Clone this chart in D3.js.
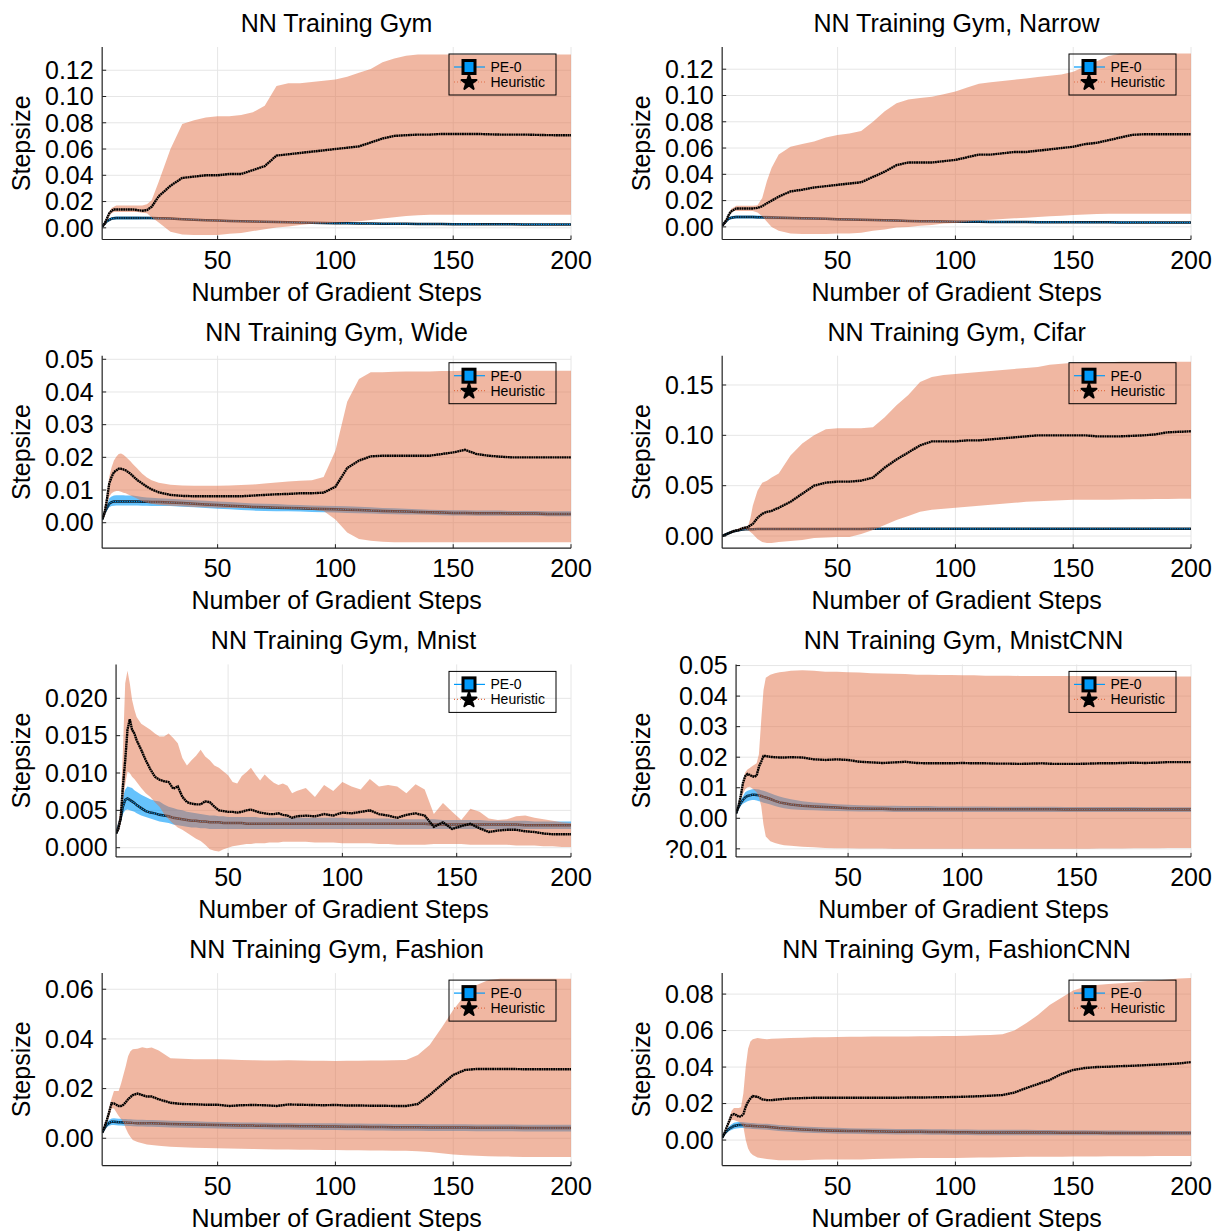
<!DOCTYPE html>
<html>
<head>
<meta charset="utf-8">
<script src="https://cdn.jsdelivr.net/npm/d3@7"></script>
<style>
  body { margin: 0; background: #fff; }
  text { font-family: "Liberation Sans", Arial, Helvetica, sans-serif; fill: #000; }
</style>
</head>
<body>
<svg id="chart" width="1217" height="1231"></svg>
<script>
// gradient steps where values were read (shared by 7 panels)
const steps = [1,2,3,4,5,6,7,8,9,10,11,12,13,14, 16,18,20,22,25,
  30,35,40,45,50,55,60, 65,70,75,80,85,90,95, 100,105,110,115,120,125,130,
  135,140,145,150,155,160,165, 170,175,180,185,190,195,200];
// Mnist panel is noisier, read more densely
const mnistSteps = [1,2,3,4,5,6,7,8,9,10,
  12,14,16,18,20,22,24,26,28,30,32,34,36,38,40,42,44,46,48,50,52,54,56,58,60,62,64,66,68,70,72,74,76,78,80,
  84,88,92,96,100,104,108,112,116,120,124,128,132,136,140,144,148,152,156,160,164,168,172,176,180,184,188,192,196,200];
const xTicks = [50, 100, 150, 200];

// ---- NN Training Gym
const gymPe = [.001,.003,.005,.006,.007,.0073,.0075,.0075,.0075,.0075,.0075,.0075,.0075,.0075, .0075,.0075,.0075,.0074,.0072,
  .007,.0066,.0062,.0058,.0055,.0052,.005, .0048,.0046,.0044,.0042,.004,.0038,.0037, .0035,.0034,.0033,.0032,.0031,.003,.003,
  .0029,.0029,.0029,.0028,.0028,.0028,.0027, .0027,.0027,.0026,.0026,.0026,.0026,.0026];
const gymPeHi = [.001,.0035,.006,.007,.008,.0085,.0086,.0086,.0086,.0086,.0086,.0086,.0086,.0086, .0086,.0085,.0085,.0083,.008,
  .0077,.0073,.0068,.0064,.006,.0057,.0055, .0053,.0051,.0049,.0047,.0045,.0043,.0042, .004,.0039,.0038,.0037,.0036,.0035,.0035,
  .0034,.0034,.0034,.0033,.0033,.0033,.0032, .0032,.0032,.0031,.0031,.0031,.0031,.0031];
const gymPeLo = [.001,.0025,.004,.005,.006,.0062,.0064,.0064,.0064,.0064,.0064,.0064,.0064,.0064, .0064,.0065,.0065,.0065,.0064,
  .0063,.0059,.0056,.0052,.005,.0047,.0045, .0043,.0041,.0039,.0037,.0035,.0033,.0032, .003,.0029,.0028,.0027,.0026,.0025,.0025,
  .0024,.0024,.0024,.0023,.0023,.0023,.0022, .0022,.0022,.0021,.0021,.0021,.0021,.0021];
const gymHeu = [.001,.003,.007,.011,.013,.014,.014,.014,.014,.014,.014,.014,.014,.014, .0135,.013,.0135,.016,.024,
  .032,.038,.039,.040,.040,.041,.041, .044,.047,.055,.056,.057,.058,.059, .060,.061,.062,.065,.068,.070,.0705,
  .071,.071,.0715,.0715,.0715,.0715,.0712, .071,.071,.071,.0708,.0706,.0705,.0705];
const gymHeuHi = [.001,.004,.008,.012,.015,.016,.017,.017,.017,.017,.017,.017,.017,.017, .017,.017,.018,.021,.035,
  .060,.079,.082,.084,.085,.085,.086, .088,.093,.108,.110,.110,.111,.112, .113,.115,.118,.121,.126,.129,.131,
  .132,.132,.132,.132,.132,.132,.132, .132,.132,.132,.132,.132,.132,.132];
const gymHeuLo = [.001,.002,.005,.009,.011,.012,.012,.012,.012,.012,.012,.012,.012,.012, .012,.0115,.011,.008,.004,
  -.003,-.005,-.0055,-.0055,-.0055,-.0045,-.004, -.0025,-.001,.0003,.001,.0022,.003,.0035, .004,.0045,.005,.006,.007,.008,.009,
  .0095,.010,.010,.010,.010,.010,.010, .010,.010,.010,.010,.010,.010,.010];

// ---- Narrow
const narPe = [.001,.003,.005,.0065,.007,.0073,.0075,.0075,.0075,.0075,.0075,.0075,.0075,.0075, .0074,.0073,.0072,.0071,.007,
  .0068,.0065,.0063,.0061,.0058,.0056,.0054, .0052,.005,.0048,.0045,.0043,.0042,.0041, .004,.0039,.0039,.0038,.0038,.0037,.0037,
  .0036,.0036,.0036,.0036,.0035,.0035,.0035, .0034,.0034,.0034,.0034,.0033,.0033,.0033];
const narPeHi = [.001,.0035,.006,.0075,.0082,.0085,.0087,.0087,.0087,.0087,.0087,.0087,.0087,.0087, .0086,.0085,.0084,.0083,.0081,
  .0078,.0075,.0072,.007,.0067,.0064,.0062, .006,.0058,.0056,.0053,.0051,.005,.0049, .0047,.0046,.0046,.0045,.0045,.0044,.0044,
  .0043,.0043,.0043,.0043,.0042,.0042,.0042, .0041,.0041,.0041,.0041,.004,.004,.004];
const narPeLo = [.001,.0025,.004,.0055,.0058,.0061,.0063,.0063,.0063,.0063,.0063,.0063,.0063,.0063, .0062,.0061,.006,.0059,.0059,
  .0058,.0055,.0054,.0052,.0049,.0048,.0046, .0044,.0042,.004,.0037,.0035,.0034,.0033, .0033,.0032,.0032,.0031,.0031,.003,.003,
  .0029,.0029,.0029,.0029,.0028,.0028,.0028, .0027,.0027,.0027,.0027,.0026,.0026,.0026];
const narHeu = [.001,.003,.006,.010,.012,.013,.014,.014,.014,.014,.014,.014,.014,.014, .0145,.0157,.018,.020,.023,
  .027,.0283,.030,.031,.032,.033,.034, .038,.042,.047,.049,.049,.049,.050, .051,.053,.055,.055,.056,.057,.057,
  .058,.059,.060,.061,.063,.064,.066, .068,.070,.0705,.0705,.0705,.0705,.0705];
const narHeuHi = [.001,.004,.007,.011,.014,.015,.016,.016,.016,.016,.016,.016,.016,.016, .0165,.022,.035,.045,.055,
  .061,.063,.065,.068,.070,.071,.073, .080,.088,.094,.097,.098,.099,.101, .103,.106,.109,.110,.111,.112,.113,
  .114,.115,.116,.118,.122,.126,.130, .132,.132,.132,.132,.132,.132,.132];
const narHeuLo = [.001,.002,.005,.009,.011,.012,.012,.012,.012,.012,.012,.012,.012,.012, .011,.008,.004,.000,-.003,
  -.005,-.0055,-.0055,-.0055,-.005,-.005,-.0045, -.003,-.002,-.0005,.000,.0008,.0015,.0025, .003,.004,.005,.0055,.006,.0065,.007,
  .0075,.008,.0085,.009,.0095,.0098,.010, .010,.010,.010,.010,.010,.010,.010];

// ---- Wide
const widePe = [.001,.003,.0045,.0058,.0063,.0065,.0065,.0065,.0065,.0065,.0065,.0065,.0065,.0065, .0065,.0064,.0064,.0063,.0063,
  .0062,.006,.0058,.0056,.0054,.0052,.005, .0048,.0047,.0046,.0045,.0044,.0043,.0042, .0041,.004,.0039,.0037,.0036,.0035,.0034,
  .0033,.0032,.0031,.003,.003,.0029,.0029, .0029,.0028,.0028,.0028,.0027,.0027,.0027];
const widePeHi = [.001,.0035,.0055,.0075,.008,.0083,.0084,.0084,.0084,.0084,.0083,.0083,.0083,.0083, .0081,.0079,.0077,.0076,.0075,
  .0073,.0071,.0069,.0067,.0065,.0063,.0061, .0059,.0058,.0057,.0055,.0054,.0053,.0052, .0051,.005,.0049,.0047,.0045,.0044,.0043,
  .0041,.004,.0039,.0038,.0038,.0037,.0037, .0037,.0036,.0036,.0036,.0035,.0035,.0035];
const widePeLo = [.001,.0025,.0038,.0047,.0051,.0052,.0053,.0053,.0053,.0053,.0053,.0053,.0053,.0053, .0053,.0052,.0052,.0051,.0051,
  .0051,.0049,.0047,.0045,.0043,.0041,.0039, .0037,.0036,.0035,.0035,.0034,.0033,.0032, .0031,.003,.0029,.0028,.0027,.0026,.0025,
  .0025,.0024,.0023,.0022,.0022,.0021,.0021, .0021,.0021,.0021,.0021,.002,.002,.002];
const wideHeu = [.001,.003,.007,.012,.014,.0155,.016,.0165,.0165,.0163,.016,.0155,.015,.0143, .013,.012,.011,.0102,.0093,
  .0085,.0082,.0081,.0081,.0081,.0081,.0081, .0083,.0085,.0087,.0088,.009,.009,.0092, .011,.0167,.019,.0203,.0205,.0205,.0205,
  .0205,.0205,.021,.0215,.0223,.021,.0205, .0202,.020,.020,.020,.020,.020,.020];
const wideHeuHi = [.001,.004,.009,.014,.017,.019,.0202,.021,.0212,.0208,.0202,.0195,.0188,.018, .0165,.015,.0138,.013,.0122,
  .0116,.0114,.0113,.0113,.0113,.0114,.0115, .0117,.012,.0123,.0126,.0128,.013,.014, .022,.037,.044,.046,.046,.0462,.0463,
  .0463,.0463,.0464,.0464,.0465,.0465,.0465, .0465,.0465,.0465,.0465,.0465,.0465,.0465];
const wideHeuLo = [.001,.002,.005,.008,.009,.0095,.0097,.0097,.0095,.0092,.009,.0086,.0083,.008, .0073,.0066,.0061,.0058,.0055,
  .0052,.005,.0048,.0047,.0046,.0045,.0045, .0044,.0044,.0043,.0042,.0041,.004,.0036, .001,-.003,-.005,-.0055,-.0058,-.006,-.006,
  -.006,-.006,-.006,-.006,-.006,-.006,-.006, -.006,-.006,-.006,-.006,-.006,-.006,-.006];

// ---- Cifar
const cifPe = [.000,.001,.002,.003,.004,.0047,.0053,.0058,.0062,.0065,.0066,.0067,.0068,.0068, .0069,.007,.007,.007,.007,
  .007,.007,.007,.007,.007,.007,.007, .0071,.0071,.0071,.0071,.0071,.0071,.0071, .0071,.0071,.0071,.0071,.0071,.0071,.0071,
  .0072,.0072,.0072,.0072,.0072,.0072,.0072, .0072,.0072,.0072,.0072,.0072,.0072,.0072];
const cifPeHi = [.000,.0014,.0026,.0036,.0046,.0053,.0059,.0064,.0068,.0071,.0072,.0073,.0074,.0074, .0075,.0076,.0076,.0076,.0076,
  .0076,.0076,.0076,.0076,.0076,.0076,.0076, .0077,.0077,.0077,.0077,.0077,.0077,.0077, .0077,.0077,.0077,.0077,.0077,.0077,.0077,
  .0078,.0078,.0078,.0078,.0078,.0078,.0078, .0078,.0078,.0078,.0078,.0078,.0078,.0078];
const cifPeLo = [.000,.0006,.0014,.0024,.0034,.0041,.0047,.0052,.0056,.0059,.006,.0061,.0062,.0062, .0063,.0064,.0064,.0064,.0064,
  .0064,.0064,.0064,.0064,.0064,.0064,.0064, .0065,.0065,.0065,.0065,.0065,.0065,.0065, .0065,.0065,.0065,.0065,.0065,.0065,.0065,
  .0066,.0066,.0066,.0066,.0066,.0066,.0066, .0066,.0066,.0066,.0066,.0066,.0066,.0066];
const cifHeu = [.000,.001,.002,.003,.004,.005,.0055,.006,.007,.008,.0085,.009,.0105,.012, .018,.022,.024,.025,.028,
  .034,.042,.050,.053,.054,.054,.055, .058,.068,.076,.083,.090,.094,.094, .094,.095,.095,.096,.097,.098,.099,
  .100,.100,.100,.100,.100,.099,.099, .099,.0995,.100,.101,.103,.1035,.104];
const cifHeuHi = [.000,.001,.002,.003,.0045,.0055,.0065,.0075,.0085,.009,.0095,.010,.018,.030, .045,.053,.055,.058,.062,
  .080,.092,.100,.106,.107,.107,.107, .108,.118,.130,.140,.153,.158,.160, .161,.162,.163,.164,.165,.166,.167,
  .168,.170,.171,.172,.172,.1725,.1725, .173,.173,.173,.173,.173,.173,.173];
const cifHeuLo = [.000,.001,.002,.003,.0035,.0045,.005,.0055,.006,.0065,.0065,.006,.004,.002, -.003,-.006,-.007,-.007,-.006,
  -.005,-.004,-.002,-.0015,-.001,-.001,.002, .006,.011,.016,.020,.024,.026,.027, .028,.029,.030,.031,.032,.033,.034,
  .0345,.035,.0355,.036,.036,.036,.036, .0363,.0365,.0365,.0367,.0368,.037,.037];

// ---- Mnist
const mnPe = [.0019,.0028,.0039,.0055,.0064,.0066,.0064,.0062,.006,.0057,
  .0053,.0049,.0047,.0046,.0044,.0043,.0042,.004,.0039,.0038,.0037,.0036,.0036,.0035,.0035,.0034,.0034,.0034,.0033,.0033,
  .0033,.0033,.0033,.0032,.0032,.0032,.0032,.0032,.0032,.0032,.0032,.0032,.0032,.0032,.0032,
  .0032,.0032,.0032,.0032,.0032,.0032,.0032,.0032,.0032,.0032,.0032,.0032,.0032,.0032,.0031,
  .0031,.0031,.0031,.0031,.0031,.0031,.0031,.0031,.0031,.003,.003,.003,.003,.003,.003];
const mnPeHi = [.0019,.0032,.0045,.0068,.0078,.0082,.0081,.008,.0077,.0075,
  .0071,.0068,.0065,.0063,.0062,.0058,.0055,.0053,.0051,.005,.0048,.0047,.0046,.0045,.0044,.0043,.0043,.0042,.0042,.0041,
  .0041,.0041,.0041,.0041,.0041,.0041,.004,.004,.004,.004,.004,.004,.004,.004,.004,
  .004,.004,.004,.004,.004,.0039,.0039,.0039,.0039,.0039,.0038,.0038,.0038,.0038,.0038,
  .0037,.0037,.0037,.0037,.0037,.0036,.0036,.0036,.0036,.0036,.0035,.0035,.0035,.0035,.0035];
const mnPeLo = [.0019,.0025,.0034,.0045,.005,.0051,.005,.0049,.0048,.0046,
  .0043,.0041,.0039,.0037,.0035,.0034,.0033,.0031,.003,.0029,.0028,.0027,.0027,.0026,.0026,.0025,.0025,.0025,.0025,.0025,
  .0025,.0025,.0025,.0025,.0025,.0025,.0025,.0025,.0025,.0025,.0025,.0025,.0025,.0025,.0025,
  .0025,.0025,.0025,.0025,.0025,.0025,.0025,.0025,.0025,.0025,.0025,.0025,.0025,.0025,.0025,
  .0025,.0025,.0025,.0025,.0025,.0025,.0025,.0025,.0025,.0025,.0025,.0025,.0025,.0025,.0025];
const mnHeu = [.0019,.0025,.0039,.0082,.0117,.0158,.0172,.0158,.0153,.0144,
  .0131,.0117,.0105,.0095,.0091,.0089,.0088,.0079,.0082,.0068,.0061,.0059,.0058,.0058,.0062,.0061,.0055,.005,.0049,.0048,
  .0048,.0047,.0048,.005,.0051,.0049,.0047,.0046,.0045,.0045,.0046,.0044,.0043,.004,.0042,
  .0043,.0042,.0045,.0043,.0047,.0046,.0048,.005,.0045,.0043,.004,.0044,.0046,.0043,.0028,
  .0034,.0025,.0029,.0032,.0026,.0021,.0023,.0024,.0024,.0022,.0021,.0019,.0018,.0018,.0018];
const mnHeuHi = [.0019,.003,.0055,.013,.022,.0237,.022,.0198,.0185,.0175,
  .0166,.0162,.0158,.0153,.0149,.0149,.0153,.0147,.014,.012,.011,.0117,.0123,.0131,.0122,.0117,.011,.0107,.0102,.0097,
  .0088,.0086,.0096,.0101,.0107,.0098,.009,.0098,.0092,.0087,.0084,.0086,.0083,.0073,.0076,
  .008,.0068,.0084,.0076,.0088,.0082,.0078,.0092,.0082,.0084,.0082,.0073,.0085,.0078,.0045,
  .006,.0048,.0037,.0052,.0048,.0039,.0037,.0038,.0042,.0043,.004,.0038,.0036,.0034,.0033];
const mnHeuLo = [.0019,.0023,.0032,.006,.0085,.0102,.010,.0095,.0092,.0088,
  .008,.0073,.0068,.0061,.0055,.0045,.0038,.0032,.0027,.0024,.002,.0016,.0012,.0009,.0004,-.0002,-.0004,-.0005,-.0002,.0000,
  .0002,.0003,.0004,.0005,.0005,.0006,.0006,.0006,.0007,.0007,.0007,.0008,.0008,.0008,.0008,
  .0008,.0007,.0007,.0007,.0006,.0006,.0006,.0006,.0005,.0005,.0004,.0004,.0004,.0004,.0005,
  .0005,.0005,.0005,.0004,.0004,.0004,.0004,.0004,.0003,.0003,.0003,.0002,.0002,.0001,.0001];

// ---- MnistCNN
const mcnnPe = [.0016,.0035,.005,.006,.0068,.0073,.0075,.0077,.0077,.0076,.0075,.0073,.007,.0068, .0063,.0057,.0052,.0049,.0045,
  .0041,.0039,.0037,.0035,.0033,.0032,.0031, .0031,.003,.003,.003,.003,.003,.003, .003,.003,.003,.003,.003,.003,.003,
  .003,.003,.0029,.0029,.0029,.0029,.0029, .0029,.0029,.0029,.0029,.0029,.0029,.0029];
const mcnnPeHi = [.0016,.004,.006,.0072,.0085,.009,.0093,.0095,.0096,.0095,.0094,.0092,.009,.0088, .0082,.0076,.0071,.0067,.0062,
  .0056,.0052,.0049,.0046,.0044,.0043,.0042, .0041,.0041,.004,.004,.004,.0039,.0039, .0039,.0039,.0039,.0038,.0038,.0038,.0038,
  .0038,.0038,.0037,.0037,.0037,.0037,.0037, .0037,.0037,.0036,.0036,.0036,.0036,.0036];
const mcnnPeLo = [.0016,.003,.004,.0048,.0052,.0056,.0058,.006,.006,.0058,.0056,.0054,.0051,.0049, .0045,.004,.0036,.0033,.003,
  .0027,.0026,.0025,.0024,.0023,.0022,.0022, .0022,.0021,.0021,.0021,.0021,.0021,.0021, .0021,.0021,.0021,.0021,.0021,.0021,.0021,
  .0021,.0021,.0021,.0021,.0021,.0021,.0021, .0021,.0021,.0021,.0021,.0021,.0021,.0021];
const mcnnHeu = [.0016,.0038,.0071,.0115,.0138,.0145,.0142,.0138,.0136,.014,.0169,.0185,.0204,.0204, .0201,.020,.0199,.0199,.020,
  .0199,.0193,.0191,.0193,.0191,.0185,.0183, .0181,.0183,.0185,.0181,.018,.018,.018, .0181,.018,.018,.0179,.0179,.0178,.0179,
  .018,.0178,.0178,.0178,.0179,.018,.018, .0181,.0182,.0181,.0182,.0184,.0184,.0184];
const mcnnHeuHi = [.0016,.004,.0078,.012,.015,.016,.0165,.017,.0175,.018,.021,.032,.042,.046, .047,.0475,.0478,.048,.0483,
  .0485,.0483,.048,.048,.0478,.0477,.0475, .0474,.0473,.0472,.047,.047,.0469,.0469, .0468,.0468,.0467,.0467,.0467,.0466,.0466,
  .0466,.0466,.0466,.0466,.0465,.0465,.0465, .0465,.0464,.0464,.0464,.0464,.0464,.0464];
const mcnnHeuLo = [.0016,.0035,.006,.008,.0095,.0102,.0103,.0098,.0092,.0085,.007,.004,-.002,-.006, -.0075,-.0081,-.0085,-.0088,-.009,
  -.0093,-.0095,-.0097,-.0098,-.0098,-.0099,-.0099, -.0099,-.01,-.01,-.01,-.01,-.01,-.01, -.01,-.01,-.01,-.01,-.01,-.01,-.01,
  -.01,-.01,-.01,-.01,-.01,-.0099,-.0099, -.0099,-.0098,-.0098,-.0098,-.0097,-.0097,-.0097];

// ---- Fashion
const fashPe = [.0023,.004,.0055,.0062,.0067,.0067,.0066,.0065,.0065,.0064,.0064,.0063,.0063,.0062, .0061,.0061,.006,.006,.0059,
  .0057,.0056,.0055,.0054,.0053,.0052,.0051, .0051,.005,.0049,.0049,.0048,.0048,.0047, .0047,.0046,.0046,.0045,.0045,.0044,.0044,
  .0044,.0043,.0043,.0043,.0043,.0042,.0042, .0042,.0042,.0041,.0041,.0041,.0041,.0041];
const fashPeHi = [.0023,.0045,.0065,.0075,.008,.0081,.008,.0079,.0079,.0078,.0078,.0077,.0077,.0076, .0075,.0075,.0074,.0074,.0073,
  .0071,.007,.0069,.0067,.0066,.0065,.0064, .0064,.0063,.0062,.0062,.0061,.0061,.006, .006,.0059,.0059,.0058,.0058,.0057,.0057,
  .0057,.0056,.0056,.0056,.0056,.0055,.0055, .0055,.0055,.0054,.0054,.0054,.0054,.0054];
const fashPeLo = [.0023,.0035,.0045,.005,.0053,.0053,.0052,.0051,.0051,.005,.005,.0049,.0049,.0048, .0047,.0047,.0046,.0046,.0045,
  .0043,.0042,.0041,.004,.0039,.0038,.0037, .0037,.0036,.0035,.0035,.0034,.0034,.0033, .0033,.0032,.0032,.0031,.0031,.003,.003,
  .003,.0029,.0029,.0029,.0029,.0028,.0028, .0028,.0028,.0027,.0027,.0027,.0027,.0027];
const fashHeu = [.0023,.0047,.0074,.0107,.0141,.014,.0135,.013,.013,.0135,.0145,.0157,.0166,.0174, .018,.0174,.0168,.0168,.0157,
  .0143,.0138,.0137,.0135,.0135,.013,.0133, .0134,.0133,.013,.0136,.0135,.0134,.0133, .0134,.0132,.0132,.0131,.0131,.013,.013,
  .0138,.0174,.0215,.0255,.0275,.0279,.0279, .0279,.0279,.0278,.0278,.0278,.0278,.0278];
const fashHeuHi = [.0023,.005,.0085,.0125,.016,.019,.019,.019,.022,.0255,.029,.033,.035,.0358, .036,.0366,.0362,.0365,.0353,
  .0322,.032,.0318,.0318,.0318,.0317,.0315, .0314,.0313,.0313,.0314,.0313,.0312,.0312, .0311,.0312,.0312,.0313,.0313,.0314,.0315,
  .0335,.0376,.0444,.0516,.0577,.0617,.0637, .0642,.0642,.0642,.0642,.0642,.0642,.0642];
const fashHeuLo = [.0023,.004,.0065,.009,.012,.012,.0105,.009,.0078,.0065,.004,.002,.0005,-.0007, -.0015,-.002,-.0025,-.0027,-.003,
  -.0034,-.0036,-.0038,-.0039,-.004,-.0041,-.0042, -.0043,-.0044,-.0045,-.0045,-.0046,-.0046,-.0047, -.0047,-.0048,-.0048,-.0049,-.0049,-.005,-.005,
  -.0052,-.0055,-.006,-.0065,-.0068,-.007,-.0072, -.0073,-.0074,-.0075,-.0075,-.0075,-.0075,-.0075];

// ---- FashionCNN
const fcnnPe = [.0013,.0035,.005,.0062,.007,.0077,.008,.0082,.0082,.0082,.008,.0079,.0078,.0077, .0075,.0074,.0073,.007,.0066,
  .0062,.0058,.0055,.0053,.0051,.005,.0049, .0048,.0047,.0046,.0045,.0045,.0044,.0044, .0043,.0043,.0042,.0042,.0042,.0041,.0041,
  .0041,.0041,.004,.004,.004,.004,.0039, .0039,.0039,.0039,.0039,.0038,.0038,.0038];
const fcnnPeHi = [.0013,.004,.006,.0075,.0087,.0095,.0098,.0099,.0099,.0098,.0096,.0095,.0094,.0093, .0091,.009,.0089,.0086,.0082,
  .0078,.0074,.0071,.0069,.0067,.0065,.0064, .0063,.0062,.0061,.006,.006,.0059,.0059, .0058,.0058,.0057,.0057,.0057,.0056,.0056,
  .0055,.0055,.0054,.0054,.0054,.0053,.0052, .0052,.0051,.0051,.0051,.005,.005,.005];
const fcnnPeLo = [.0013,.003,.004,.005,.0055,.006,.0063,.0065,.0066,.0066,.0064,.0063,.0062,.0061, .0059,.0058,.0057,.0054,.005,
  .0046,.0042,.0039,.0037,.0035,.0034,.0033, .0032,.0032,.0031,.003,.003,.0029,.0029, .0028,.0028,.0027,.0027,.0027,.0026,.0026,
  .0027,.0027,.0026,.0026,.0026,.0027,.0026, .0026,.0027,.0027,.0027,.0026,.0026,.0026];
const fcnnHeu = [.0013,.0037,.0073,.0104,.0137,.0142,.0137,.0128,.013,.0142,.0183,.021,.0228,.0241, .0237,.0223,.0219,.0219,.0223,
  .0228,.023,.0232,.0232,.0232,.0232,.0232, .0232,.0232,.0232,.0233,.0233,.0234,.0235, .0236,.0238,.024,.0243,.0247,.026,.0285,
  .0307,.0329,.0362,.0384,.0395,.040,.0402, .0405,.0407,.041,.0413,.0416,.042,.0427];
const fcnnHeuHi = [.0013,.004,.008,.012,.016,.0175,.0175,.0175,.018,.0256,.040,.050,.054,.0552, .056,.0555,.0552,.0555,.0556,
  .0559,.0561,.0563,.0564,.0565,.0566,.0566, .0567,.0567,.0568,.0568,.0569,.0569,.057, .057,.0572,.0574,.0576,.058,.060,.064,
  .0685,.074,.078,.082,.084,.085,.0855, .086,.0865,.087,.0875,.088,.0885,.0888];
const fcnnHeuLo = [.0013,.0033,.006,.009,.011,.011,.0105,.010,.009,.0073,.000,-.0046,-.007,-.0082, -.0095,-.010,-.0104,-.0107,-.011,
  -.011,-.011,-.0108,-.0107,-.0106,-.0106,-.0106, -.0104,-.0102,-.0101,-.010,-.0099,-.0099,-.0098, -.0098,-.0097,-.0096,-.0095,-.0094,-.0093,-.0092,
  -.0092,-.0091,-.0091,-.009,-.009,-.009,-.0089, -.0089,-.0089,-.0089,-.0088,-.0088,-.0088,-.0088];

// y ticks and their labels as printed
const yTicks2 = [0, .02, .04, .06, .08, .10, .12];
const yLabels2 = ["0.00", "0.02", "0.04", "0.06", "0.08", "0.10", "0.12"];
const wideTicks = [0, .01, .02, .03, .04, .05];
const wideLabels = ["0.00", "0.01", "0.02", "0.03", "0.04", "0.05"];
const cifTicks = [0, .05, .10, .15];
const cifLabels = ["0.00", "0.05", "0.10", "0.15"];
const mnTicks = [0, .005, .010, .015, .020];
const mnLabels = ["0.000", "0.005", "0.010", "0.015", "0.020"];
const mcnnTicks = [-.01, 0, .01, .02, .03, .04, .05];
const mcnnLabels = ["?0.01", "0.00", "0.01", "0.02", "0.03", "0.04", "0.05"];
const fashTicks = [0, .02, .04, .06];
const fashLabels = ["0.00", "0.02", "0.04", "0.06"];
const fcnnTicks = [0, .02, .04, .06, .08];
const fcnnLabels = ["0.00", "0.02", "0.04", "0.06", "0.08"];

const panels = [
  { title: "NN Training Gym", col: 0, row: 0, x: steps, pe: gymPe, peLo: gymPeLo, peHi: gymPeHi, heu: gymHeu, heuLo: gymHeuLo, heuHi: gymHeuHi, yDomain: [-0.0089, 0.1377], yTicks: yTicks2, yLabels: yLabels2 },
  { title: "NN Training Gym, Narrow", col: 1, row: 0, x: steps, pe: narPe, peLo: narPeLo, peHi: narPeHi, heu: narHeu, heuLo: narHeuLo, heuHi: narHeuHi, yDomain: [-0.0096, 0.1369], yTicks: yTicks2, yLabels: yLabels2 },
  { title: "NN Training Gym, Wide", col: 0, row: 1, x: steps, pe: widePe, peLo: widePeLo, peHi: widePeHi, heu: wideHeu, heuLo: wideHeuLo, heuHi: wideHeuHi, yDomain: [-0.0078, 0.0511], yTicks: wideTicks, yLabels: wideLabels },
  { title: "NN Training Gym, Cifar", col: 1, row: 1, x: steps, pe: cifPe, peLo: cifPeLo, peHi: cifPeHi, heu: cifHeu, heuLo: cifHeuLo, heuHi: cifHeuHi, yDomain: [-0.0121, 0.1791], yTicks: cifTicks, yLabels: cifLabels },
  { title: "NN Training Gym, Mnist", col: 0, row: 2, x: mnistSteps, pe: mnPe, peLo: mnPeLo, peHi: mnPeHi, heu: mnHeu, heuLo: mnHeuLo, heuHi: mnHeuHi, yDomain: [-0.00123, 0.02454], yTicks: mnTicks, yLabels: mnLabels },
  { title: "NN Training Gym, MnistCNN", col: 1, row: 2, x: steps, pe: mcnnPe, peLo: mcnnPeLo, peHi: mcnnPeHi, heu: mcnnHeu, heuLo: mcnnHeuLo, heuHi: mcnnHeuHi, yDomain: [-0.01264, 0.05038], yTicks: mcnnTicks, yLabels: mcnnLabels },
  { title: "NN Training Gym, Fashion", col: 0, row: 3, x: steps, pe: fashPe, peLo: fashPeLo, peHi: fashPeHi, heu: fashHeu, heuLo: fashHeuLo, heuHi: fashHeuHi, yDomain: [-0.011, 0.0665], yTicks: fashTicks, yLabels: fashLabels },
  { title: "NN Training Gym, FashionCNN", col: 1, row: 3, x: steps, pe: fcnnPe, peLo: fcnnPeLo, peHi: fcnnPeHi, heu: fcnnHeu, heuLo: fcnnHeuLo, heuHi: fcnnHeuHi, yDomain: [-0.014, 0.0915], yTicks: fcnnTicks, yLabels: fcnnLabels }
];

const blue = "#009AFA";
const orange = "#E26F46";
const svg = d3.select("#chart");
const problems = [];

panels.forEach((p, k) => {
  ["pe", "peLo", "peHi", "heu", "heuLo", "heuHi"].forEach(key => {
    if (p[key].length !== p.x.length) problems.push(p.title + " " + key + " " + p[key].length + "/" + p.x.length);
  });

  const x0 = p.col * 620;
  const top = 47 + p.row * 308.7;
  const bottom = top + 192.5;
  const right = x0 + 571;

  // leave room for the widest tick label
  const probe = svg.append("text").attr("font-size", 25);
  const labelW = d3.max(p.yLabels, s => probe.text(s).node().getComputedTextLength());
  probe.remove();
  const left = x0 + 45 + labelW + 8.5;

  const x = d3.scaleLinear().domain([1, 200]).range([left, right]);
  const y = d3.scaleLinear().domain(p.yDomain).range([bottom, top]);

  const g = svg.append("g");
  const clipId = "clip" + k;
  g.append("clipPath").attr("id", clipId)
    .append("rect").attr("x", left).attr("y", top).attr("width", right - left).attr("height", bottom - top);

  // grid
  g.selectAll(".gx").data(xTicks).enter().append("line")
    .attr("x1", d => x(d)).attr("x2", d => x(d)).attr("y1", top).attr("y2", bottom)
    .attr("stroke", "#e6e6e6").attr("stroke-width", 1);
  g.selectAll(".gy").data(p.yTicks).enter().append("line")
    .attr("x1", left).attr("x2", right).attr("y1", d => y(d)).attr("y2", d => y(d))
    .attr("stroke", "#e6e6e6").attr("stroke-width", 1);

  const idx = d3.range(p.x.length);
  const band = (lo, hi) => d3.area().x(i => x(p.x[i])).y0(i => y(lo[i])).y1(i => y(hi[i]))(idx);
  const line = v => d3.line().x(i => x(p.x[i])).y(i => y(v[i]))(idx);

  const plot = g.append("g").attr("clip-path", "url(#" + clipId + ")");

  // PE-0: ribbon, then line with square markers
  plot.append("path").attr("d", band(p.peLo, p.peHi)).attr("fill", blue).attr("fill-opacity", 0.6);
  plot.append("path").attr("d", line(p.pe)).attr("fill", "none").attr("stroke", "#10202c").attr("stroke-width", 2.5);
  plot.append("path").attr("d", line(p.pe)).attr("fill", "none").attr("stroke", blue)
    .attr("stroke-width", 1.1).attr("stroke-dasharray", "1.2 1.15");

  // Heuristic: ribbon, then line made of small black stars
  plot.append("path").attr("d", band(p.heuLo, p.heuHi)).attr("fill", orange).attr("fill-opacity", 0.5);
  plot.append("path").attr("d", line(p.heu)).attr("fill", "none").attr("stroke", "#000")
    .attr("stroke-width", 2.4).attr("stroke-dasharray", "1.9 0.45");

  // axes
  g.append("line").attr("x1", left).attr("x2", left).attr("y1", top).attr("y2", bottom)
    .attr("stroke", "#222").attr("stroke-width", 1.2);
  g.append("line").attr("x1", left).attr("x2", right).attr("y1", bottom).attr("y2", bottom)
    .attr("stroke", "#222").attr("stroke-width", 1.2);
  g.selectAll(".tx").data(xTicks).enter().append("line")
    .attr("x1", d => x(d)).attr("x2", d => x(d)).attr("y1", bottom).attr("y2", bottom - 4)
    .attr("stroke", "#222").attr("stroke-width", 1);
  g.selectAll(".ty").data(p.yTicks).enter().append("line")
    .attr("x1", left).attr("x2", left + 4).attr("y1", d => y(d)).attr("y2", d => y(d))
    .attr("stroke", "#222").attr("stroke-width", 1);

  g.selectAll(".lx").data(xTicks).enter().append("text")
    .attr("x", d => x(d)).attr("y", bottom + 29).attr("text-anchor", "middle")
    .attr("font-size", 25).text(d => d);
  g.selectAll(".ly").data(p.yTicks).enter().append("text")
    .attr("x", left - 8.5).attr("y", d => y(d)).attr("dy", "0.35em").attr("text-anchor", "end")
    .attr("font-size", 25).text((d, i) => p.yLabels[i]);

  g.append("text").attr("x", (left + right) / 2).attr("y", top - 15).attr("text-anchor", "middle")
    .attr("font-size", 25).text(p.title);
  g.append("text").attr("x", (left + right) / 2).attr("y", bottom + 61).attr("text-anchor", "middle")
    .attr("font-size", 25).text("Number of Gradient Steps");
  g.append("text").attr("transform", "translate(" + (x0 + 30) + "," + ((top + bottom) / 2) + ") rotate(-90)")
    .attr("text-anchor", "middle").attr("font-size", 25).text("Stepsize");

  // legend
  const bx = right - 122, by = top + 7;
  const lg = g.append("g");
  lg.append("rect").attr("x", bx).attr("y", by).attr("width", 107).attr("height", 41)
    .attr("fill", "none").attr("stroke", "#000").attr("stroke-width", 1);
  lg.append("line").attr("x1", bx + 5).attr("x2", bx + 36).attr("y1", by + 13).attr("y2", by + 13)
    .attr("stroke", blue).attr("stroke-width", 1.2);
  lg.append("rect").attr("x", bx + 14).attr("y", by + 6.5).attr("width", 12).attr("height", 13)
    .attr("fill", blue).attr("stroke", "#000").attr("stroke-width", 3);
  lg.append("line").attr("x1", bx + 5).attr("x2", bx + 36).attr("y1", by + 28).attr("y2", by + 28)
    .attr("stroke", orange).attr("stroke-width", 1.2).attr("stroke-dasharray", "1 2");
  lg.append("path").attr("d", d3.symbol().type(d3.symbolStar).size(70)())
    .attr("transform", "translate(" + (bx + 20) + "," + (by + 28.5) + ")")
    .attr("fill", "#000").attr("stroke", "#000").attr("stroke-width", 2).attr("stroke-linejoin", "round");
  lg.append("text").attr("x", bx + 41.5).attr("y", by + 13).attr("dy", "0.35em").attr("font-size", 14).text("PE-0");
  lg.append("text").attr("x", bx + 41.5).attr("y", by + 28).attr("dy", "0.35em").attr("font-size", 14).text("Heuristic");
});

if (problems.length) throw new Error("length mismatch: " + problems.join("; "));
</script>
</body>
</html>
